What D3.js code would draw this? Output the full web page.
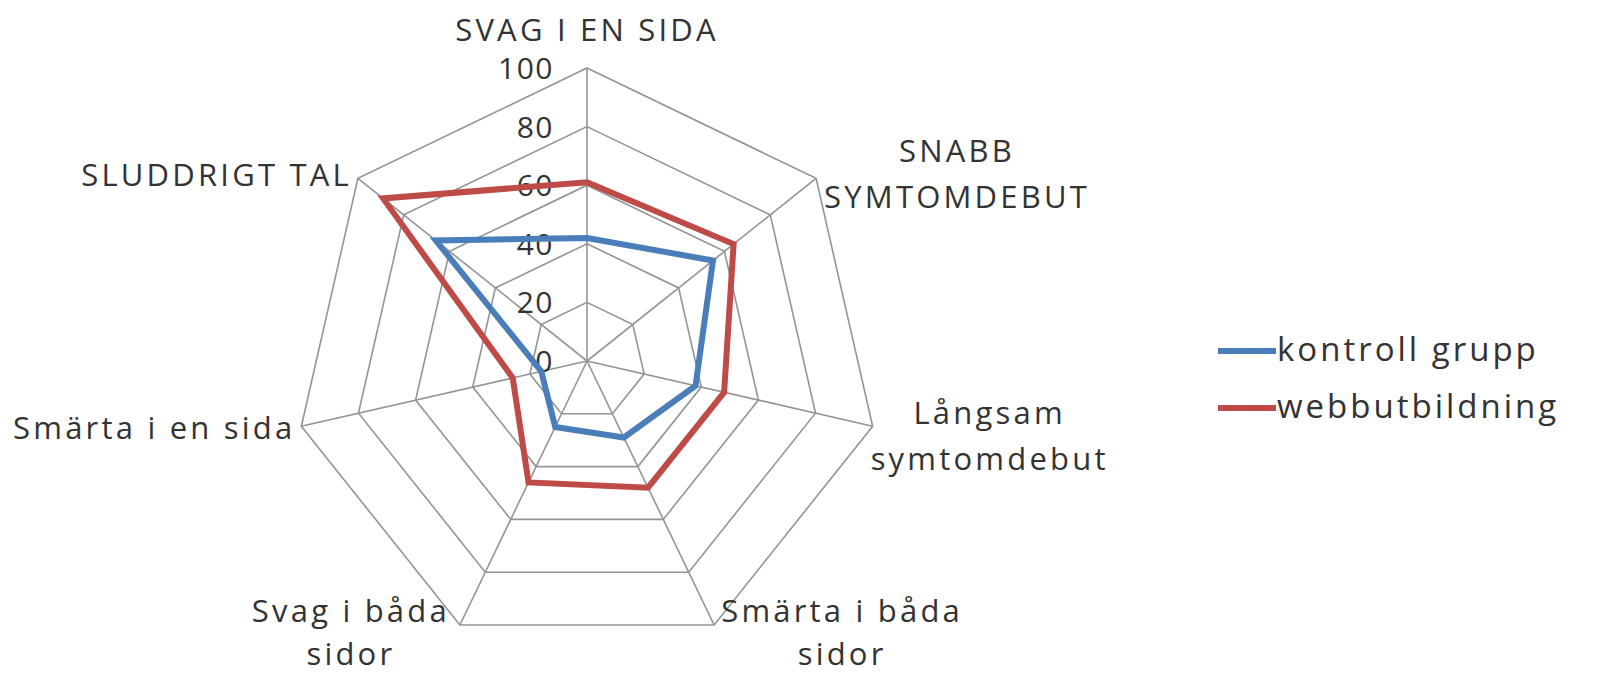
<!DOCTYPE html>
<html>
<head>
<meta charset="utf-8">
<script src="https://cdn.jsdelivr.net/npm/d3@7"></script>
<style>
  body { margin: 0; background: #fff; }
  svg text { font-family: "Open Sans", Lato, sans-serif; fill: #333; }
</style>
</head>
<body>
<svg id="vis" width="1600" height="677"></svg>
<script>
// Kategorier (medurs från toppen)
const categories = ["SVAG I EN SIDA", "SNABB SYMTOMDEBUT", "Långsam symtomdebut",
  "Smärta i båda sidor", "Svag i båda sidor", "Smärta i en sida", "SLUDDRIGT TAL"];
// Radbrutna etiketter som i originalet
const categoryLines = [["SVAG I EN SIDA"], ["SNABB", "SYMTOMDEBUT"], ["Långsam", "symtomdebut"],
  ["Smärta i båda", "sidor"], ["Svag i båda", "sidor"], ["Smärta i en sida"], ["SLUDDRIGT TAL"]];
const seriesNames = ["kontroll grupp", "webbutbildning"];
const kontrollValues = [42, 55, 38, 29, 25, 16, 66];
const webbValues = [61, 64, 48, 48, 46, 26, 89];
const tickValues = [0, 20, 40, 60, 80, 100];

const SVG = d3.select("#vis");
const cx = 587, cy = 361, R = 293;
const colors = ["#4a7ebb", "#be4b48"];

const r = d3.scaleLinear().domain([0, 100]).range([0, R]);
const angle = d3.scalePoint().domain(d3.range(categories.length + 1)).range([0, 2 * Math.PI]);
const pt = (i, v) => [cx + r(v) * Math.sin(angle(i)), cy - r(v) * Math.cos(angle(i))];

const g = SVG.append("g");

// Rutnät: en heptagon per skalsteg
g.selectAll(".ring")
  .data(tickValues.slice(1))
  .join("polygon")
  .attr("points", v => categories.map((c, i) => pt(i, v).join(",")).join(" "))
  .attr("fill", "none")
  .attr("stroke", "#949494")
  .attr("stroke-width", 1.6);

// Axlar
g.selectAll(".spoke")
  .data(categories)
  .join("line")
  .attr("x1", cx).attr("y1", cy)
  .attr("x2", (d, i) => pt(i, 100)[0])
  .attr("y2", (d, i) => pt(i, 100)[1])
  .attr("stroke", "#949494")
  .attr("stroke-width", 1.6);

// Skaletiketter längs toppaxeln
g.selectAll(".tick")
  .data(tickValues)
  .join("text")
  .attr("x", cx - 33)
  .attr("y", d => cy - r(d) + 11)
  .attr("text-anchor", "end")
  .attr("font-size", 30)
  .attr("letter-spacing", 1.5)
  .text(d => d);

// Dataserier
const line = d3.lineRadial()
  .angle((d, i) => angle(i))
  .radius(d => r(d))
  .curve(d3.curveLinearClosed);

g.selectAll(".series")
  .data([kontrollValues, webbValues])
  .join("path")
  .attr("transform", `translate(${cx},${cy})`)
  .attr("d", d => line(d))
  .attr("fill", "none")
  .attr("stroke", (d, i) => colors[i])
  .attr("stroke-width", 6)
  .attr("stroke-linejoin", "miter");

// Kategorietiketter: förskjutning från hörnet
const labelLayout = [
  { anchor: "middle", dx: 0, dy: -27, lh: 44 },
  { anchor: "middle", dx: 141, dy: -16, lh: 46 },
  { anchor: "middle", dx: 117, dy: -2, lh: 46 },
  { anchor: "middle", dx: 128, dy: -3, lh: 43 },
  { anchor: "middle", dx: -109, dy: -3, lh: 43 },
  { anchor: "end", dx: -6, dy: 13, lh: 44 },
  { anchor: "end", dx: -6, dy: 8, lh: 44 }
];

categories.forEach((c, i) => {
  const [x, y] = pt(i, 100);
  const L = labelLayout[i];
  const t = g.append("text")
    .attr("text-anchor", L.anchor)
    .attr("font-size", 31)
    .attr("letter-spacing", 3.2);
  categoryLines[i].forEach((s, j) => {
    t.append("tspan")
      .attr("x", x + L.dx)
      .attr("y", y + L.dy + j * L.lh)
      .text(s);
  });
});

// Legend
const legend = SVG.append("g")
  .selectAll("g")
  .data(seriesNames)
  .join("g")
  .attr("transform", (d, i) => `translate(1218, ${351 + i * 57})`);

legend.append("line")
  .attr("x1", 0).attr("x2", 58)
  .attr("stroke", (d, i) => colors[i])
  .attr("stroke-width", 6);

legend.append("text")
  .attr("x", 59)
  .attr("y", 10)
  .attr("font-size", 33)
  .attr("letter-spacing", 3)
  .text(d => d);
</script>
</body>
</html>
